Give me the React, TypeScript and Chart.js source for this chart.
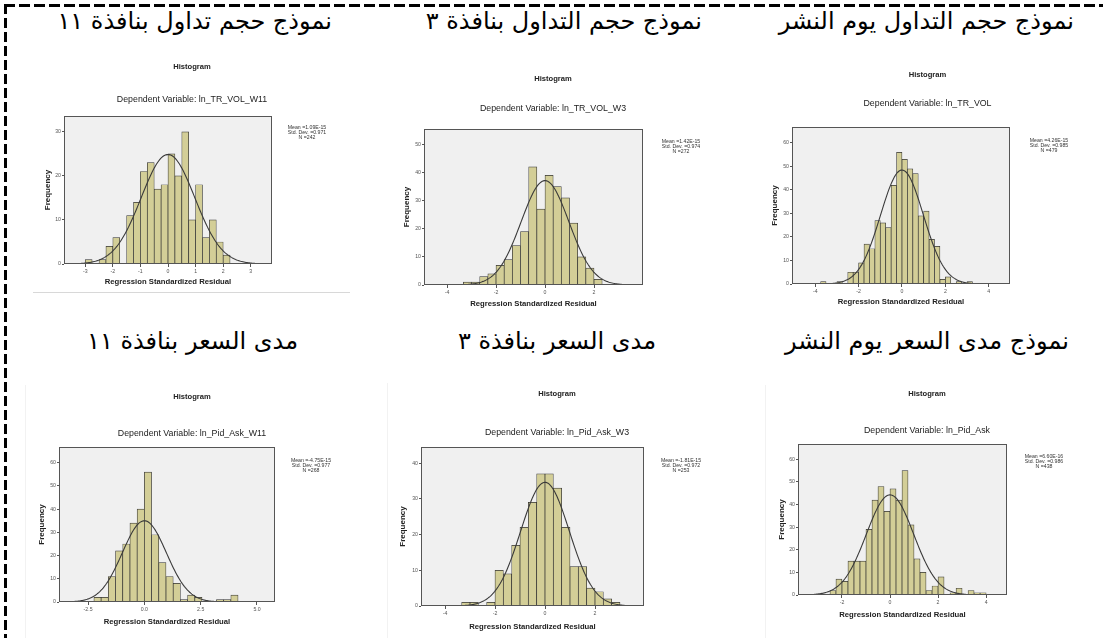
import React, { useEffect, useRef } from 'react';
import { Chart, registerables } from 'chart.js';

Chart.register(...registerables);

// ---------------- DATA ----------------
const arabicTitles = [
  'نموذج حجم تداول بنافذة ١١',
  'نموذج حجم التداول بنافذة ٣',
  'نموذج حجم التداول يوم النشر',
  'مدى السعر بنافذة ١١',
  'مدى السعر بنافذة ٣',
  'نموذج مدى السعر يوم النشر',
];
const depVars = ['ln_TR_VOL_W11', 'ln_TR_VOL_W3', 'ln_TR_VOL', 'ln_Pid_Ask_W11', 'ln_Pid_Ask_W3', 'ln_Pid_Ask'];

const counts1 = [1, 0, 1, 4, 6, 0, 11, 14, 21, 23, 17, 18, 25, 20, 30, 10, 18, 6, 10, 5, 2];
const counts2 = [1, 1, 3, 4, 7, 9, 14, 19, 42, 27, 39, 35, 31, 22, 10, 6, 2];
const counts3 = [1, 0, 0, 1, 0, 5, 5, 9, 17, 15, 27, 26, 24, 42, 56, 53, 49, 47, 29, 31, 19, 16, 2, 3, 0, 1, 0, 1];
const counts4 = [2, 2, 11, 22, 25, 34, 40, 56, 29, 17, 11, 8, 1, 3, 2, 0, 0, 1, 1, 3];
const counts5 = [1, 1, 0, 1, 10, 9, 17, 22, 29, 37, 37, 33, 22, 11, 11, 5, 4, 2, 1];
const counts6 = [2, 7, 6, 15, 15, 15, 29, 42, 48, 37, 47, 42, 55, 31, 16, 10, 2, 4, 8, 0, 1, 3, 0, 2, 1, 1];
const allCounts = [counts1, counts2, counts3, counts4, counts5, counts6];

const binStarts = [-3, -10 / 3, -3.75, -2.24, -10 / 3, -2.5];
const binWidths = [0.25, 1 / 3, 0.25, 0.32, 1 / 3, 0.25];

const meanLabels = ['1.09E-15', '1.42E-15', '4.26E-15', '-4.75E-15', '-1.81E-15', '6.60E-16'];
const stdDevs = [0.971, 0.974, 0.985, 0.977, 0.972, 0.986];
const nValues = [242, 272, 479, 268, 253, 438];

const xTicks1 = [-3, -2, -1, 0, 1, 2, 3];
const xTicks2 = [-4, -2, 0, 2];
const xTicks3 = [-4, -2, 0, 2, 4];
const xTicks4 = [-2.5, 0, 2.5, 5];
const xTicks5 = [-4, -2, 0, 2];
const xTicks6 = [-2, 0, 2, 4];
const allXTicks = [xTicks1, xTicks2, xTicks3, xTicks4, xTicks5, xTicks6];

const xTickLabels1 = ['-3', '-2', '-1', '0', '1', '2', '3'];
const xTickLabels2 = ['-4', '-2', '0', '2'];
const xTickLabels3 = ['-4', '-2', '0', '2', '4'];
const xTickLabels4 = ['-2.5', '0.0', '2.5', '5.0'];
const xTickLabels5 = ['-4', '-2', '0', '2'];
const xTickLabels6 = ['-2', '0', '2', '4'];
const allXLabels = [xTickLabels1, xTickLabels2, xTickLabels3, xTickLabels4, xTickLabels5, xTickLabels6];

const yTicks1 = [0, 10, 20, 30];
const yTicks2 = [0, 10, 20, 30, 40, 50];
const yTicks3 = [0, 10, 20, 30, 40, 50, 60];
const yTicks4 = [0, 10, 20, 30, 40, 50, 60];
const yTicks5 = [0, 10, 20, 30, 40];
const yTicks6 = [0, 10, 20, 30, 40, 50, 60];
const allYTicks = [yTicks1, yTicks2, yTicks3, yTicks4, yTicks5, yTicks6];

const xRanges = [[-3.77, 3.77], [-4.94, 4.0], [-5.07, 4.98], [-3.79, 5.8], [-4.96, 3.96], [-3.83, 4.87]];
const yMaxes = [33.6, 55.5, 66.8, 66.8, 44.5, 66.8];

// ---------------- LAYOUT ----------------
type Box = {
  L: number; T: number; R: number; B: number;
  histY: number; depY: number; cx: number; xTitleY: number; yTitleX: number; statsX: number; statsY: number;
  titleRight: number; titleTop: number;
};
const boxes: Box[] = [
  { L: 64, T: 116, R: 272, B: 264, histY: 67, depY: 100, cx: 192, xTitleY: 282, yTitleX: 48, statsX: 307, statsY: 128, titleRight: 332, titleTop: 6 },
  { L: 424, T: 129, R: 643, B: 285, histY: 79, depY: 109, cx: 553, xTitleY: 304, yTitleX: 407, statsX: 681, statsY: 142, titleRight: 702, titleTop: 6 },
  { L: 792, T: 127, R: 1010, B: 284, histY: 75, depY: 104, cx: 927.5, xTitleY: 302, yTitleX: 775, statsX: 1049, statsY: 141, titleRight: 1074, titleTop: 6 },
  { L: 59, T: 447, R: 275, B: 602, histY: 397, depY: 434, cx: 192, xTitleY: 622, yTitleX: 42, statsX: 311, statsY: 461, titleRight: 298, titleTop: 326 },
  { L: 421, T: 447, R: 644, B: 606, histY: 394, depY: 433, cx: 557, xTitleY: 627, yTitleX: 403, statsX: 681, statsY: 461, titleRight: 656, titleTop: 326 },
  { L: 798, T: 444, R: 1007, B: 595, histY: 394, depY: 431, cx: 927, xTitleY: 615, yTitleX: 782, statsX: 1044, statsY: 457, titleRight: 1069, titleTop: 326 },
];

const FONT = '"Liberation Sans", Arial, Helvetica, sans-serif';
const HIST_SIZE = 7.6;
const DEP_SIZE = 8.8;
const XTITLE_SIZE = 7.7;
const YTITLE_SIZE = 8;
const TICK_SIZE = 5.2;
const STATS_SIZE = 5.2;

function geometry(b: Box) {
  const CL = Math.round(b.yTitleX - (YTITLE_SIZE * 1.2) / 2);
  const CR = Math.round(2 * b.cx - CL);
  const CT = Math.round(b.histY - 4 - (HIST_SIZE * 1.2) / 2);
  const CB = Math.round(b.xTitleY + (XTITLE_SIZE * 1.2) / 2);
  const W = CR - CL;
  const H = CB - CT;
  const histLH = HIST_SIZE * 1.2;
  const depLH = DEP_SIZE * 1.2;
  const titleBottom = CT + 4 + histLH;
  const subTop = b.depY - depLH / 2 - titleBottom;
  const subBottom = b.T - (b.depY + depLH / 2);
  return { CL, CT, W, H, yW: b.L - CL, y2W: CR - b.R, xH: CB - b.B, subTop, subBottom };
}

const spssPlugin = {
  id: 'spssFrame',
  beforeDraw(chart: any) {
    const a = chart.chartArea;
    const ctx = chart.ctx;
    ctx.save();
    ctx.fillStyle = '#f0f0f0';
    ctx.fillRect(a.left, a.top, a.right - a.left, a.bottom - a.top);
    ctx.restore();
  },
  afterDatasetsDraw(chart: any) {
    const a = chart.chartArea;
    const ctx = chart.ctx;
    ctx.save();
    ctx.strokeStyle = '#555';
    ctx.lineWidth = 1;
    ctx.strokeRect(Math.round(a.left) + 0.5, Math.round(a.top) + 0.5, Math.round(a.right - a.left) - 1, Math.round(a.bottom - a.top) - 1);
    ctx.restore();
  },
  afterDraw(chart: any, _args: any, opts: any) {
    if (!opts || !opts.lines) return;
    const ctx = chart.ctx;
    ctx.save();
    ctx.fillStyle = '#333';
    ctx.font = `${STATS_SIZE}px ${FONT}`;
    ctx.textAlign = 'center';
    ctx.textBaseline = 'middle';
    opts.lines.forEach((t: string, k: number) => ctx.fillText(t, opts.x, opts.y + k * 4.8));
    ctx.restore();
  },
};

function Histogram({ i }: { i: number }) {
  const ref = useRef<HTMLCanvasElement>(null);
  const b = boxes[i];
  const g = geometry(b);
  useEffect(() => {
    const counts = allCounts[i];
    const start = binStarts[i];
    const w = binWidths[i];
    const [xMin, xMax] = xRanges[i];
    const sd = stdDevs[i];
    const n = nValues[i];
    const mean = parseFloat(meanLabels[i]);
    const bars = counts.map((c, k) => ({ x: start + (k + 0.5) * w, y: c }));
    // fitted normal curve defined by the reported mean, std. dev. and N
    const peak = (n * w) / (sd * Math.sqrt(2 * Math.PI));
    const curve: { x: number; y: number }[] = [];
    const steps = 200;
    for (let k = 0; k <= steps; k++) {
      const x = xMin + ((xMax - xMin) * k) / steps;
      const z = (x - mean) / sd;
      curve.push({ x, y: peak * Math.exp(-0.5 * z * z) });
    }
    const xTicks = allXTicks[i];
    const xLabels = allXLabels[i];
    const yTicks = allYTicks[i];
    const tickFont = { family: FONT, size: TICK_SIZE };
    const chart = new Chart(ref.current as HTMLCanvasElement, {
      type: 'bar',
      data: {
        datasets: [
          {
            type: 'line',
            data: curve,
            borderColor: '#3a3a3a',
            borderWidth: 1.1,
            pointRadius: 0,
            tension: 0,
            fill: false,
            order: 1,
          } as any,
          {
            type: 'bar',
            data: bars,
            backgroundColor: '#d3ce97',
            borderColor: '#333',
            borderWidth: 0.7,
            borderSkipped: false,
            barPercentage: 1,
            categoryPercentage: 1,
            grouped: false,
            order: 2,
          } as any,
        ],
      },
      options: {
        animation: false,
        responsive: false,
        maintainAspectRatio: false,
        devicePixelRatio: 1,
        layout: { padding: 0 },
        events: [],
        plugins: {
          legend: { display: false },
          tooltip: { enabled: false },
          title: {
            display: true,
            text: 'Histogram',
            color: '#222',
            font: { family: FONT, size: HIST_SIZE, weight: 'bold' },
            padding: { top: 4, bottom: 0 },
          },
          subtitle: {
            display: true,
            text: 'Dependent Variable: ' + depVars[i],
            color: '#222',
            font: { family: FONT, size: DEP_SIZE },
            padding: { top: g.subTop, bottom: g.subBottom },
          },
          spssFrame: {
            lines: ['Mean =' + meanLabels[i], 'Std. Dev. =' + stdDevs[i].toFixed(3), 'N =' + n],
            x: b.statsX - g.CL,
            y: b.statsY - g.CT,
          },
        } as any,
        scales: {
          x: {
            type: 'linear',
            min: xMin,
            max: xMax,
            offset: false,
            bounds: 'data',
            afterBuildTicks: (s: any) => { s.ticks = xTicks.map((v) => ({ value: v })); },
            afterFit: (s: any) => { s.height = g.xH; },
            ticks: {
              autoSkip: false,
              maxRotation: 0,
              minRotation: 0,
              font: tickFont,
              color: '#555',
              padding: 1,
              callback: (_v: any, idx: number) => xLabels[idx],
            },
            grid: { display: true, drawOnChartArea: false, drawTicks: true, tickLength: 3, color: '#555', offset: false },
            border: { display: false },
            title: {
              display: true,
              text: 'Regression Standardized Residual',
              color: '#222',
              font: { family: FONT, size: XTITLE_SIZE, weight: 'bold' },
              padding: 0,
            },
          },
          y: {
            type: 'linear',
            position: 'left',
            min: 0,
            max: yMaxes[i],
            bounds: 'data',
            afterBuildTicks: (s: any) => { s.ticks = yTicks.map((v) => ({ value: v })); },
            afterFit: (s: any) => { s.width = g.yW; },
            ticks: { font: tickFont, color: '#555', padding: 1 },
            grid: { display: true, drawOnChartArea: false, drawTicks: true, tickLength: 2, color: '#555' },
            border: { display: false },
            title: {
              display: true,
              text: 'Frequency',
              color: '#222',
              font: { family: FONT, size: YTITLE_SIZE, weight: 'bold' },
              padding: 0,
            },
          },
          y2: {
            type: 'linear',
            position: 'right',
            display: true,
            afterFit: (s: any) => { s.width = g.y2W; },
            ticks: { display: false },
            grid: { display: false },
            border: { display: false },
          },
        } as any,
      },
      plugins: [spssPlugin],
    } as any);
    return () => chart.destroy();
  }, []);
  return (
    <canvas
      ref={ref}
      width={g.W}
      height={g.H}
      style={{ position: 'absolute', left: g.CL, top: g.CT, width: g.W, height: g.H }}
    />
  );
}

export default function App() {
  return (
    <div style={{ position: 'absolute', left: 0, top: 0, width: 1103, height: 638, overflow: 'hidden', background: '#fff' }}>
      {/* dashed frame */}
      <div style={{ position: 'absolute', left: 4, top: 4, width: 1100, height: 3, background: 'repeating-linear-gradient(to right, #000 0 11px, transparent 11px 15px)' }} />
      <div style={{ position: 'absolute', left: 4, top: 4, width: 3, height: 640, background: 'repeating-linear-gradient(to bottom, #000 0 10px, transparent 10px 14px)' }} />
      {/* faint image edges */}
      <div style={{ position: 'absolute', left: 33, top: 292, width: 317, height: 1, background: '#d8d8d8' }} />
      <div style={{ position: 'absolute', left: 25, top: 385, width: 1, height: 253, background: '#f2f2f2' }} />
      <div style={{ position: 'absolute', left: 387, top: 383, width: 1, height: 255, background: '#f2f2f2' }} />
      <div style={{ position: 'absolute', left: 765, top: 385, width: 1, height: 253, background: '#f2f2f2' }} />
      {arabicTitles.map((t, k) => (
        <div
          key={k}
          dir="rtl"
          style={{
            position: 'absolute',
            right: 1103 - boxes[k].titleRight,
            top: boxes[k].titleTop,
            fontFamily: '"DejaVu Sans", sans-serif',
            fontSize: 24,
            lineHeight: '30px',
            whiteSpace: 'nowrap',
            color: '#000',
          }}
        >
          {t}
        </div>
      ))}
      {boxes.map((_b, k) => (
        <Histogram key={k} i={k} />
      ))}
    </div>
  );
}
